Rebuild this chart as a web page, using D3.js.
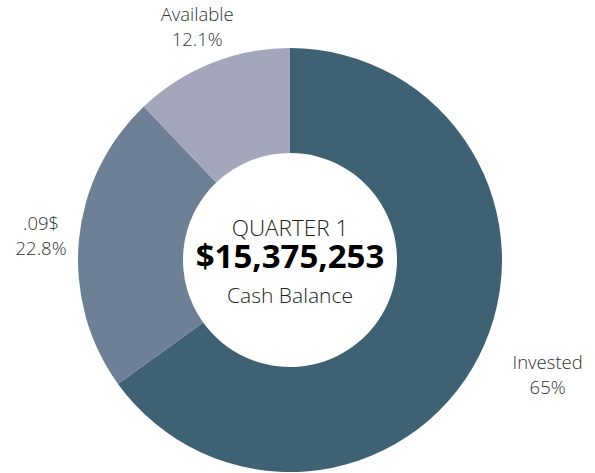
<!DOCTYPE html>
<html>
<head>
<meta charset="utf-8">
<script src="https://cdn.jsdelivr.net/npm/d3@7"></script>
<style>
  body { margin: 0; background: #fff; }
  text { font-family: "Open Sans", sans-serif; }
</style>
</head>
<body>
<div id="donut"></div>
<script>
let categories = ['Invested', '.09$', 'Available'],
    percentLabels = ['65%', '22.8%', '12.1%'],
    values = [65, 22.8, 12.1],
    colors = ['#3e6273', '#6d8095', '#a4a6bb'];

let centerTitle = 'QUARTER 1',
    centerValue = '$15,375,253',
    centerSub = 'Cash Balance';

let width = 595,
    height = 473,
    cx = 290,
    cy = 260,
    outerR = 212,
    innerR = 107,
    labelR = 250;

let svg = d3.select('#donut').append('svg')
    .attr('width', width)
    .attr('height', height)
    .append('g')
    .attr('transform', `translate(${cx}, ${cy})`);

let data = categories.map((c, i) => ({name: c, pct: percentLabels[i], value: values[i], color: colors[i]}));

let pie = d3.pie()
    .sort(null)
    .value(d => d.value);

let arc = d3.arc()
    .innerRadius(innerR)
    .outerRadius(outerR);

let labelArc = d3.arc()
    .innerRadius(labelR)
    .outerRadius(labelR);

let arcs = pie(data);

svg.append('g')
    .attr('class', 'slices')
    .selectAll('path')
    .data(arcs)
    .join('path')
    .attr('d', arc)
    .attr('fill', d => d.data.color);

// outside labels, centred lines; labels on the right side get pushed out by half their width
let labels = svg.append('g')
    .attr('class', 'labels')
    .selectAll('text')
    .data(arcs)
    .join('text')
    .attr('text-anchor', 'middle')
    .style('font-size', '18.5px')
    .style('font-weight', 300)
    .attr('fill', '#333');

labels.append('tspan')
    .attr('x', 0)
    .attr('y', -7)
    .text(d => d.data.name);

labels.append('tspan')
    .attr('x', 0)
    .attr('y', 18)
    .text(d => d.data.pct);

labels.attr('transform', function(d) {
    let [x, y] = labelArc.centroid(d);
    let mid = (d.startAngle + d.endAngle) / 2;
    if (Math.sin(mid) > 0.5) {
        let w = d3.max(d3.select(this).selectAll('tspan').nodes(), n => n.getComputedTextLength());
        x += w / 2;
        y += 2;
    }
    return `translate(${x}, ${y})`;
});

// center text
let center = svg.append('g').attr('class', 'center');

center.append('text')
    .attr('text-anchor', 'middle')
    .attr('y', -24)
    .style('font-size', '22.5px')
    .style('font-weight', 300)
    .attr('fill', '#222')
    .text(centerTitle);

center.append('text')
    .attr('text-anchor', 'middle')
    .attr('y', 8)
    .style('font-size', '33px')
    .style('font-weight', 700)
    .attr('fill', '#000')
    .text(centerValue);

center.append('text')
    .attr('text-anchor', 'middle')
    .attr('y', 43)
    .style('font-size', '21px')
    .style('font-weight', 300)
    .attr('fill', '#222')
    .text(centerSub);
</script>
</body>
</html>
